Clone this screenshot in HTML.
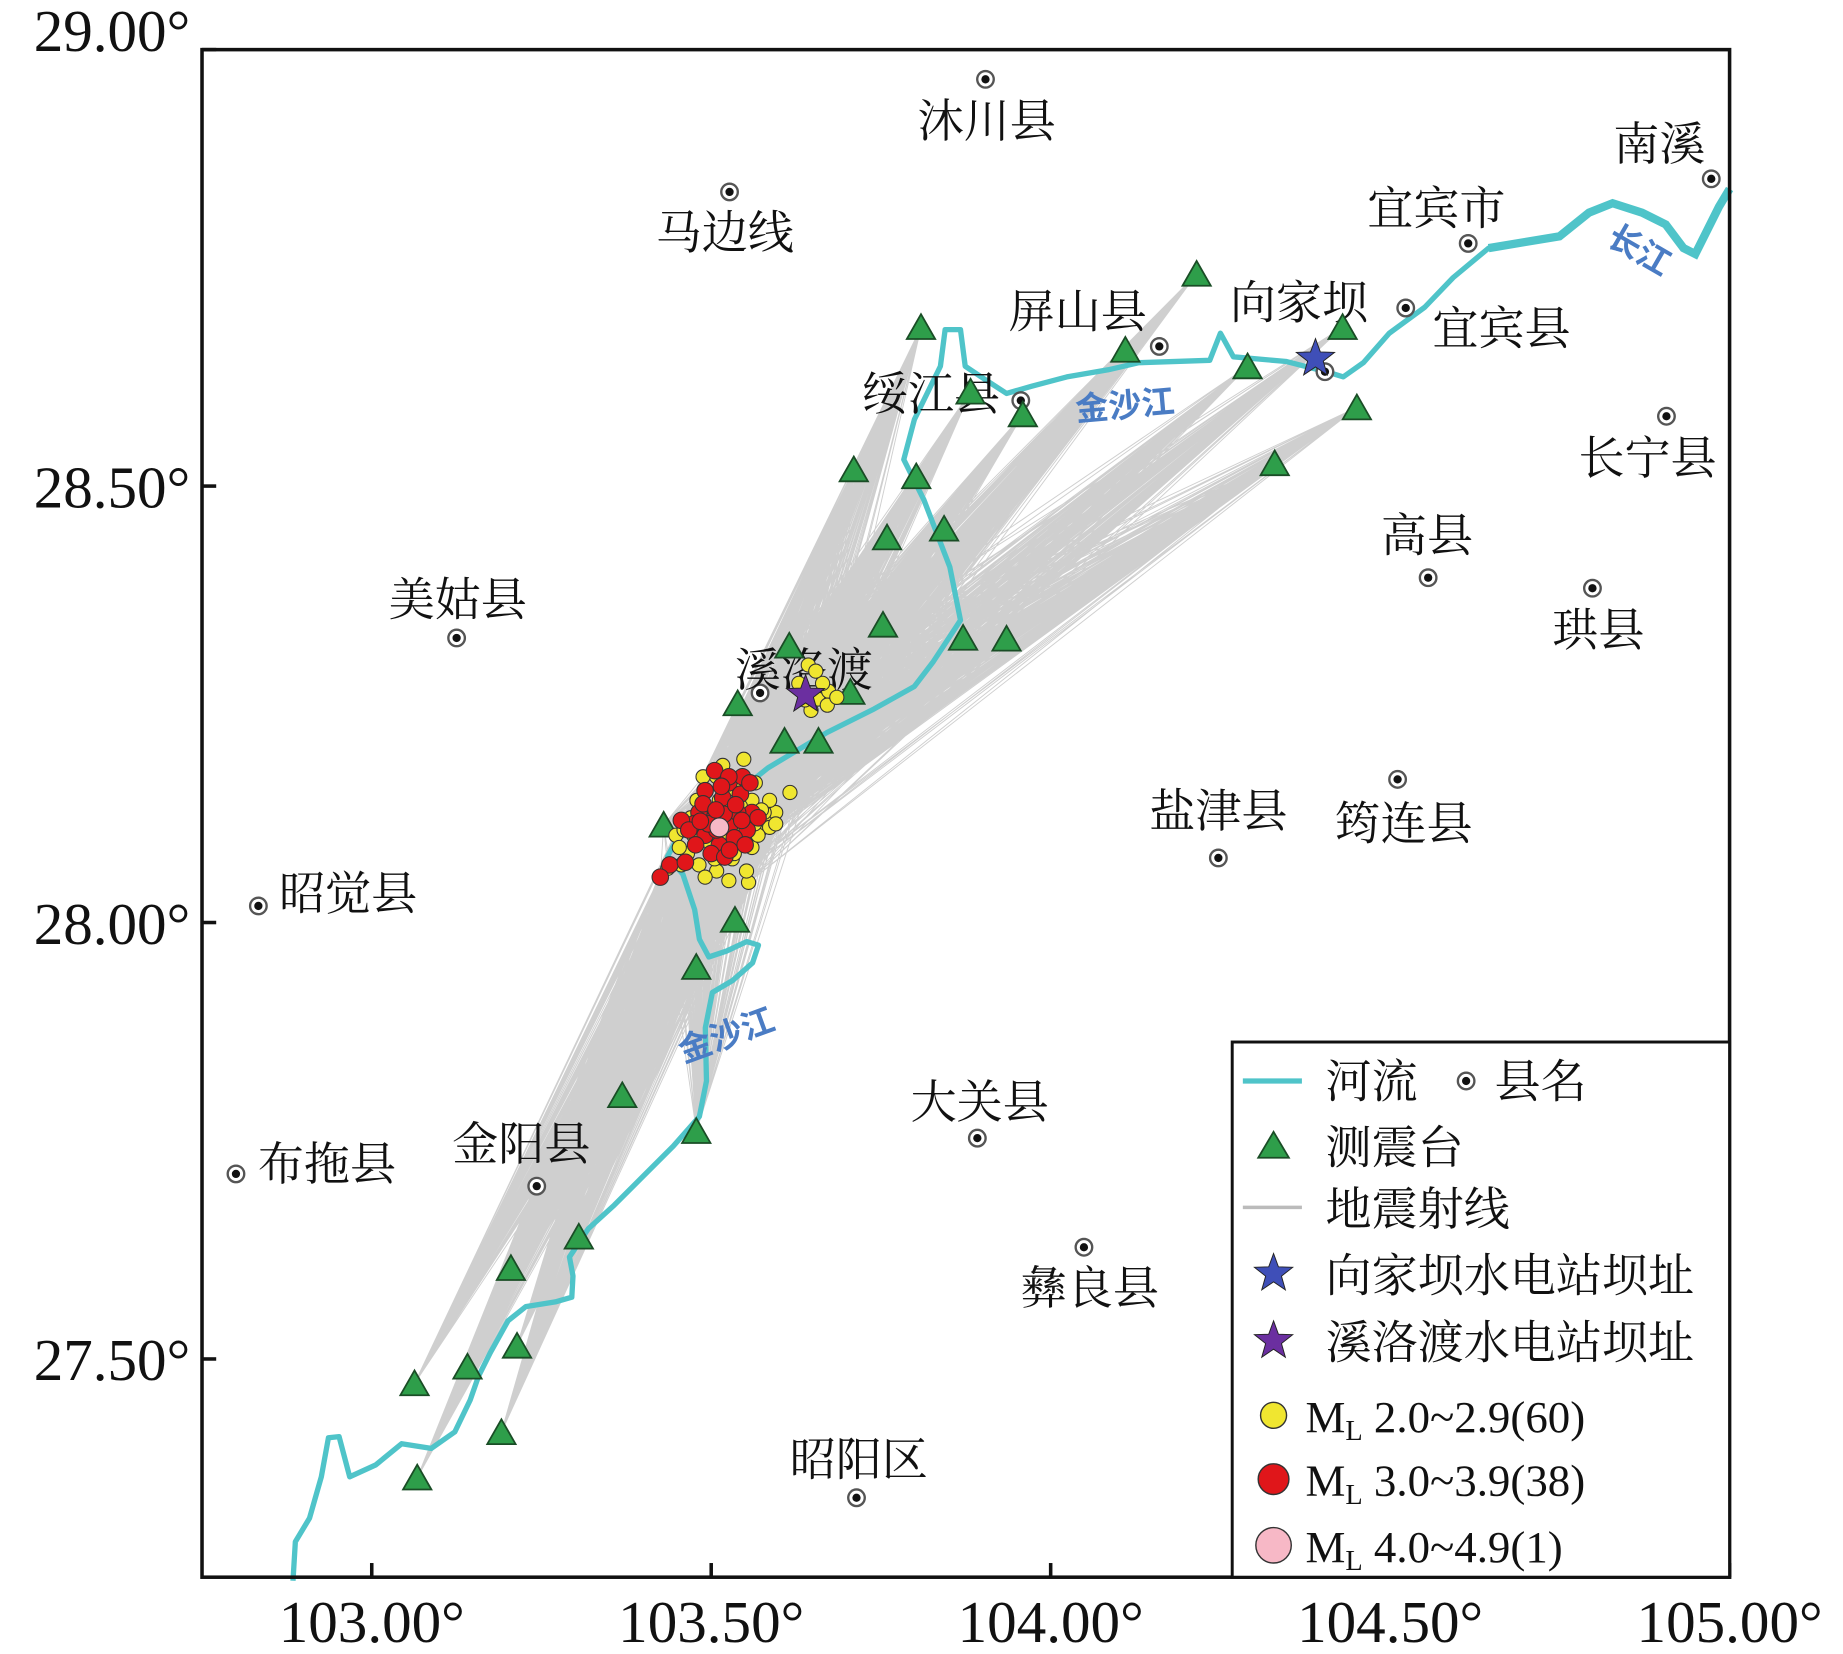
<!DOCTYPE html>
<html><head><meta charset="utf-8"><style>
html,body{margin:0;padding:0;background:#fff}
svg{display:block}
.cj{font-family:"Liberation Serif","Noto Serif CJK SC",serif;font-size:39px;fill:#111}
.ax{font-family:"Liberation Serif",serif;font-size:50px;fill:#111}
.rv{font-family:"Liberation Sans","Noto Sans CJK SC",sans-serif;font-size:28px;fill:#4a7cc4;font-weight:bold}
</style></head><body>
<svg id="chart" width="1843" height="1654" viewBox="0 0 1560 1400" xmlns="http://www.w3.org/2000/svg">
<g id="rays"></g>
<path fill="none" stroke="#4fc4c9" stroke-width="4.5" stroke-linejoin="round"
d="M248,1338 L250,1305 262,1285 272,1250 278,1217 287,1216 296,1250 318,1240 340,1222 365,1226 385,1212 398,1185 405,1165 415,1145 430,1118 445,1106 470,1102 484,1098 485,1080 482,1064 498,1040 520,1020 545,995 570,970 592,945 598,915 597,870 603,840 620,830 637,815 642,800 632,797 615,805 600,810 592,795 588,770 578,740 565,725 572,712 600,690 650,650 700,620 740,600 774,581 790,560 813,525 804,480 782,423 765,389 774,355 796,310 800,279 813,279 817,310 835,322 852,333 873,327 903,319 938,313 964,307 1024,305 1033,282 1044,302 1089,306 1124,315 1137,319 1154,307 1176,282 1206,260 1230,235 1260,210 1290,205 1320,200 1345,180 1365,172 1390,180 1410,190 1425,210 1435,215 1445,195 1455,175 1464,160"/>
<path fill="none" stroke="#4fc4c9" stroke-width="7" d="M1260,210 1290,205 1320,200 1345,180 1365,172 1390,180 1410,190 1425,210 1435,215 1445,195 1455,175 1464,160"/>
<text class="rv" x="910" y="352" transform="rotate(-5 960 340)">金沙江</text>
<text class="rv" x="568" y="885" transform="rotate(-20 615 862)">金沙江</text>
<text class="rv" x="1358" y="222" transform="rotate(30 1388 215)">长江</text>
<g id="counties"></g>
<g id="stations"></g>
<g id="quakes"></g>
<g id="dams"></g>
<rect x="171" y="42" width="1293" height="1293" fill="none" stroke="#111" stroke-width="3"/>
<g id="axes"></g>
<g>
<rect x="1043" y="882" width="421" height="453" fill="#fff" stroke="#111" stroke-width="2.5"/>
<line x1="1052" y1="915" x2="1102" y2="915" stroke="#4fc4c9" stroke-width="4.5"/>
<text class="cj" x="1122" y="929">河流</text>
<circle cx="1241" cy="915" r="7" fill="#fff" stroke="#555" stroke-width="2"/>
<circle cx="1241" cy="915" r="3.5" fill="#111"/>
<text class="cj" x="1265" y="929">县名</text>
<polygon points="1078,958 1091,980 1065,980" fill="#2e9e4a" stroke="#1a4d26" stroke-width="1.5"/>
<text class="cj" x="1122" y="985">测震台</text>
<line x1="1052" y1="1022" x2="1102" y2="1022" stroke="#bbb" stroke-width="3"/>
<text class="cj" x="1122" y="1037">地震射线</text>
<text class="cj" x="1122" y="1093">向家坝水电站坝址</text>
<text class="cj" x="1122" y="1150">溪洛渡水电站坝址</text>
<circle cx="1078" cy="1198" r="11" fill="#f0e630" stroke="#333" stroke-width="1.2"/>
<circle cx="1078" cy="1252" r="13" fill="#e0161a" stroke="#333" stroke-width="1.2"/>
<circle cx="1078" cy="1308" r="15" fill="#f7b8c6" stroke="#333" stroke-width="1.2"/>
<text class="ax" style="font-size:38px" x="1105" y="1212">M<tspan font-size="24" dy="7">L</tspan><tspan dy="-7"> 2.0~2.9(60)</tspan></text>
<text class="ax" style="font-size:38px" x="1105" y="1266">M<tspan font-size="24" dy="7">L</tspan><tspan dy="-7"> 3.0~3.9(38)</tspan></text>
<text class="ax" style="font-size:38px" x="1105" y="1322">M<tspan font-size="24" dy="7">L</tspan><tspan dy="-7"> 4.0~4.9(1)</tspan></text>
</g>
</svg>
<script>
const NS="http://www.w3.org/2000/svg";
const xTicks=[103.00,103.50,104.00,104.50,105.00];
const yTicks=[29.00,28.50,28.00,27.50];
const stLon=[103.809,103.882,103.959,104.110,104.215,104.290,104.430,104.451,104.330,103.710,103.802,103.759,103.843,103.753,103.871,103.935,103.615,103.539,103.705,103.608,103.658,103.430,103.535,103.478,103.369,103.478,103.305,103.205,103.214,103.141,103.063,103.191,103.067];
const stLat=[28.682,28.608,28.582,28.656,28.743,28.637,28.682,28.590,28.526,28.519,28.511,28.441,28.451,28.341,28.326,28.325,28.317,28.251,28.264,28.208,28.208,28.112,28.003,27.949,27.802,27.761,27.640,27.604,27.515,27.491,27.472,27.416,27.364];
const ctName=["沐川县","马边线","南溪","宜宾市","向家坝","宜宾县","屏山县","绥江县","长宁县","高县","珙县","美姑县","溪洛渡","盐津县","筠连县","昭觉县","大关县","布拖县","金阳县","彝良县","昭阳区"];
const ctLon=[103.904,103.527,104.973,104.615,104.404,104.523,104.160,103.956,104.907,104.556,104.798,103.125,103.572,104.247,104.511,102.833,103.892,102.800,103.243,104.049,103.714];
const ctLat=[28.966,28.837,28.852,28.778,28.631,28.704,28.660,28.598,28.580,28.395,28.383,28.326,28.263,28.074,28.164,28.019,27.753,27.712,27.698,27.628,27.341];
const ctLabelDx=[1,-4,-44,-27,-22,81,-69,-76,-16,-1,5,1,37,0,5,76,2,77,-13,5,2];
const ctLabelDy=[36,35,-29,-29,-58,18,-29,-5,36,-35,36,-32,-19,-39,38,-10,-30,-8,-35,35,-32];
const m2Lon=[103.643,103.657,103.673,103.671,103.685,103.647,103.629,103.664,103.654,103.638,103.548,103.508,103.534,103.491,103.560,103.581,103.595,103.616,103.456,103.436,103.531,103.555,103.508,103.572,103.520,103.496,103.479,103.539,103.586,103.465,103.565,103.517,103.578,103.448,103.482,103.526,103.560,103.500,103.543,103.470,103.512,103.595,103.488,103.529,103.569,103.453,103.552,103.505,103.474,103.586,103.520,103.539,103.496,103.564,103.482,103.515,103.460,103.534,103.574,103.491];
const m2Lat=[28.295,28.256,28.265,28.249,28.258,28.243,28.274,28.274,28.288,28.255,28.187,28.167,28.153,28.133,28.140,28.117,28.126,28.149,28.066,28.062,28.073,28.046,28.059,28.106,28.100,28.122,28.140,28.113,28.109,28.079,28.160,28.180,28.126,28.100,28.066,28.048,28.086,28.106,28.133,28.120,28.140,28.113,28.167,28.120,28.100,28.086,28.059,28.073,28.100,28.140,28.133,28.093,28.093,28.113,28.113,28.113,28.106,28.079,28.129,28.052];
const m3Lon=[103.505,103.526,103.546,103.491,103.517,103.543,103.560,103.482,103.505,103.529,103.553,103.474,103.491,103.512,103.534,103.456,103.439,103.462,103.425,103.500,103.520,103.539,103.569,103.488,103.467,103.508,103.550,103.526,103.496,103.519,103.536,103.477,103.507,103.557,103.515,103.484,103.527,103.545];
const m3Lat=[28.174,28.160,28.167,28.151,28.143,28.147,28.126,28.126,28.120,28.113,28.106,28.113,28.100,28.089,28.097,28.117,28.066,28.069,28.052,28.079,28.075,28.126,28.120,28.136,28.106,28.106,28.089,28.167,28.113,28.124,28.135,28.089,28.129,28.160,28.156,28.116,28.083,28.117];
const m4Lon=[103.512];
const m4Lat=[28.109];
const damLon=[104.390,103.639];
const damLat=[28.646,28.261];
const damColor=["#3f4fb8","#6b2fa0"];

const X=v=>171+(v-102.75)/2.25*1293;
const Y=v=>42+(29-v)/1.75*1293;
function mk(tag,attrs,parent){const e=document.createElementNS(NS,tag);for(const k in attrs)e.setAttribute(k,attrs[k]);parent.appendChild(e);return e;}
function starPts(cx,cy,R,r){let p=[];for(let i=0;i<10;i++){const a=-Math.PI/2+i*Math.PI/5,rr=i%2?r:R;p.push((cx+rr*Math.cos(a)).toFixed(1)+","+(cy+rr*Math.sin(a)).toFixed(1));}return p.join(" ");}

const rays=document.getElementById('rays');
const evLon=m2Lon.concat(m3Lon,m4Lon), evLat=m2Lat.concat(m3Lat,m4Lat);
let d="";
for(let i=0;i<evLon.length;i++)for(let j=0;j<stLon.length;j++){
 d+="M"+X(evLon[i]).toFixed(1)+","+Y(evLat[i]).toFixed(1)+"L"+X(stLon[j]).toFixed(1)+","+Y(stLat[j]).toFixed(1);
}
const rp=mk('path',{d:d,fill:'none',stroke:'#a8a8a8','stroke-width':0.8,'stroke-opacity':0.55},rays);



const cg=document.getElementById('counties');
for(let i=0;i<ctName.length;i++){
 const cx=X(ctLon[i]),cy=Y(ctLat[i]);
 const o=mk('circle',{cx:cx,cy:cy,r:7,fill:'#fff',stroke:'#555','stroke-width':2},cg);
 
 
 const c=mk('circle',{cx:cx,cy:cy,r:3.5,fill:'#111'},cg);
 
 
 const t=mk('text',{x:cx+ctLabelDx[i],y:cy+ctLabelDy[i]+13,'text-anchor':'middle','class':'cj'},cg);
 t.textContent=ctName[i];
 
 
}
const sg=document.getElementById('stations');
for(let i=0;i<stLon.length;i++){
 const cx=X(stLon[i]),cy=Y(stLat[i]);
 const p=mk('polygon',{points:`${cx},${cy-11} ${cx+12},${cy+10} ${cx-12},${cy+10}`,fill:'#2e9e4a',stroke:'#1a4d26','stroke-width':1.5},sg);
 
 
}
const qg=document.getElementById('quakes');
function quakes(lon,lat,fill,r,name){for(let i=0;i<lon.length;i++){
 const c=mk('circle',{cx:X(lon[i]),cy:Y(lat[i]),r:r,fill:fill,stroke:'#333','stroke-width':0.9},qg);
 
 
}}
quakes(m2Lon,m2Lat,'#f0e630',6,'quake-ml2');
quakes(m3Lon,m3Lat,'#e0161a',7,'quake-ml3');
quakes(m4Lon,m4Lat,'#f7b8c6',8,'quake-ml4');
const dg=document.getElementById('dams');
for(let i=0;i<damLon.length;i++){
 const s=mk('polygon',{points:starPts(X(damLon[i]),Y(damLat[i]),17,7),fill:damColor[i],stroke:'#222','stroke-width':0.8},dg);
 
 
}
const svg=document.getElementById('chart');
for(let i=0;i<2;i++){
 const s=mk('polygon',{points:starPts(1078,i?1135:1078,17,7),fill:damColor[i],stroke:'#222','stroke-width':0.8},svg);
 
 
}
const ag=document.getElementById('axes');
xTicks.forEach(v=>{
 const x=X(v);
 const l=mk('line',{x1:x,y1:1335,x2:x,y2:1323,stroke:'#111','stroke-width':3},ag);
 
 
 const t=mk('text',{x:x,y:1390,'text-anchor':'middle','class':'ax'},ag);
 t.textContent=v.toFixed(2)+"°";
 
 
});
yTicks.forEach(v=>{
 const y=Y(v);
 const l=mk('line',{x1:171,y1:y,x2:183,y2:y,stroke:'#111','stroke-width':3},ag);
 
 
 const t=mk('text',{x:161,y:v===29?43:y+18,'text-anchor':'end','class':'ax'},ag);
 t.textContent=v.toFixed(2)+"°";
 
 
});
</script>
</body></html>
